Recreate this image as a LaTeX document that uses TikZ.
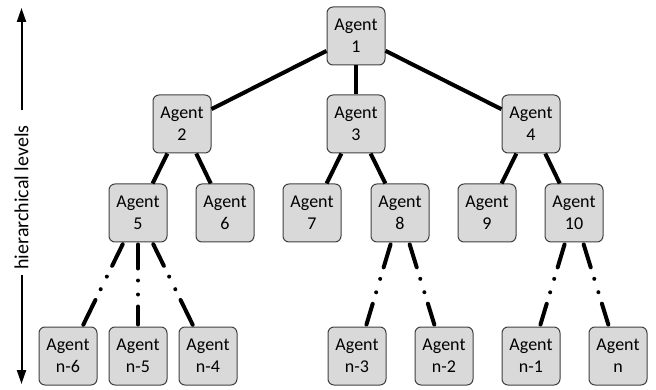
\documentclass[tikz,border=0pt]{standalone}
\usepackage{fontspec}
\setmainfont{Carlito}
\usetikzlibrary{arrows.meta}

\tikzset{
  agent/.style={draw=black!75, line width=1pt, fill=gray!30, rounded corners=6pt,
    minimum width=58pt, minimum height=58pt, inner sep=0pt, align=center,
    font=\fontsize{18}{22}\selectfont},
  link/.style={line width=4pt},
  farlink/.style={line width=4pt, line cap=round, shorten <=2pt, shorten >=2pt,
    dash pattern=on 24pt off 12pt on 0pt off 14pt on 0pt off 12pt on 80pt},
  levelarrow/.style={line width=2pt, -{Triangle[length=14pt,width=9pt]}}
}

\begin{document}
\begin{tikzpicture}[x=1pt, y=-1pt]
    \useasboundingbox (0,0) rectangle (656,390);
    % levels
    \node[agent] (A1) at (356,36) {Agent\\1};
    \node[agent] (A2) at (182,124) {Agent\\2};
    \node[agent] (A3) at (356,124) {Agent\\3};
    \node[agent] (A4) at (531,124) {Agent\\4};
    \node[agent] (A5) at (138,213) {Agent\\5};
    \node[agent] (A6) at (225,213) {Agent\\6};
    \node[agent] (A7) at (312,213) {Agent\\7};
    \node[agent] (A8) at (400,213) {Agent\\8};
    \node[agent] (A9) at (487,213) {Agent\\9};
    \node[agent] (A10) at (574,213) {Agent\\10};
    \node[agent] (N6) at (68,356) {Agent\\n-6};
    \node[agent] (N5) at (138,356) {Agent\\n-5};
    \node[agent] (N4) at (208,356) {Agent\\n-4};
    \node[agent] (N3) at (357,356) {Agent\\n-3};
    \node[agent] (N2) at (444,356) {Agent\\n-2};
    \node[agent] (N1) at (531,356) {Agent\\n-1};
    \node[agent] (Nn) at (618,356) {Agent\\n};
    % links
    \draw[link] (A1) -- (A2);
    \draw[link] (A1) -- (A3);
    \draw[link] (A1) -- (A4);
    \draw[link] (A2) -- (A5);
    \draw[link] (A2) -- (A6);
    \draw[link] (A3) -- (A7);
    \draw[link] (A3) -- (A8);
    \draw[link] (A4) -- (A9);
    \draw[link] (A4) -- (A10);
    \draw[farlink] (A5) -- (N6);
    \draw[farlink] (A5) -- (N5);
    \draw[farlink] (A5) -- (N4);
    \draw[farlink] (A8) -- (N3);
    \draw[farlink] (A8) -- (N2);
    \draw[farlink] (A10) -- (N1);
    \draw[farlink] (A10) -- (Nn);
    % level arrow
    \node[rotate=90, inner sep=0pt, font=\fontsize{20}{24}\selectfont] (L) at (21.5,197.5) {hierarchical levels};
    \coordinate (Ltop) at (21.5,8);
    \coordinate (Lbot) at (21.5,384);
    \draw[levelarrow, shorten <=15pt] (L.east) -- (Ltop);
    \draw[levelarrow, shorten <=5pt] (L.west) -- (Lbot);
\end{tikzpicture}
\end{document}
